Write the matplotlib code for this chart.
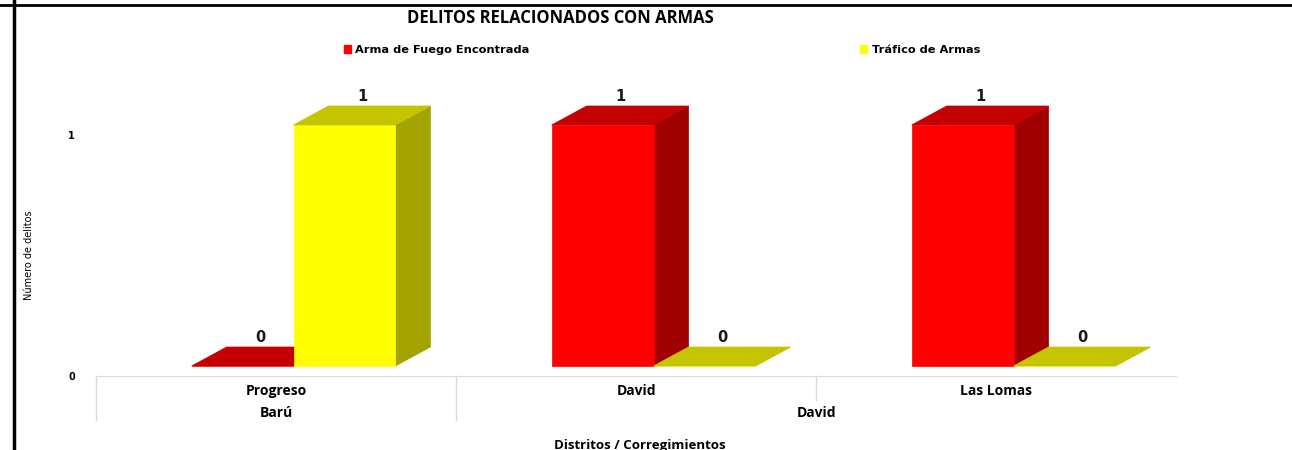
import matplotlib
matplotlib.use('Agg')
import matplotlib.pyplot as plt
from matplotlib.patches import Polygon, Rectangle
from matplotlib.lines import Line2D
import matplotlib.transforms as mtransforms

plt.rcParams['font.family'] = ['Open Sans', 'DejaVu Sans']

# datos
corregimientos = ['Progreso', 'David', 'Las Lomas']
distritos = ['Barú', 'David']
distrito_centros = [0.5, 2.0]
series = ['Arma de Fuego Encontrada', 'Tráfico de Armas']
arma_fuego = [0, 1, 1]
trafico = [1, 0, 0]

# colores (frente, arriba, lado)
col_rojo = ('#FF0000', '#C40000', '#A00000')
col_amar = ('#FFFF00', '#C4C400', '#A4A400')

W, H = 1292, 450
fig = plt.figure(figsize=(W / 100, H / 100), dpi=100)
ax = fig.add_axes([96 / W, (H - 376) / H, 1080 / W, 241 / H])
ax.set_xlim(0, 3)
ax.set_ylim(0, 1)

# profundidad 3D en unidades de datos
dx = 35 / 360
dy = 19 / 241
ox, oy = dx / 2, 10 / 241
ancho = 0.283


def barra3d(x0, v, cols):
    xa = x0 + ox
    xb = xa + ancho
    y0 = oy
    y1 = v + oy
    frente = [(xa, y0), (xb, y0), (xb, y1), (xa, y1)]
    arriba = [(xa, y1), (xb, y1), (xb + dx, y1 + dy), (xa + dx, y1 + dy)]
    lado = [(xb, y0), (xb + dx, y0 + dy), (xb + dx, y1 + dy), (xb, y1)]
    for pts, c in [(lado, cols[2]), (frente, cols[0]), (arriba, cols[1])]:
        ax.add_patch(Polygon(pts, closed=True, facecolor=c, edgecolor=c,
                             linewidth=0.5, clip_on=False))
    ax.text((xa + xb) / 2 + dx / 2, y1 + dy + 0.01, str(v), ha='center',
            va='bottom', fontsize=10.5, fontweight='bold', family='DejaVu Sans',
            color='#1a1a1a')


for i in range(len(corregimientos)):
    barra3d(i + 0.5 - ancho, arma_fuego[i], col_rojo)
    barra3d(i + 0.5, trafico[i], col_amar)

# ejes
for s in ['top', 'right', 'left']:
    ax.spines[s].set_visible(False)
ax.spines['bottom'].set_color('#d9d9d9')
ax.set_yticks([0, 1])
ax.set_yticklabels(['0', '1'], fontsize=7, fontweight='bold', family='DejaVu Sans')
ax.tick_params(axis='y', length=0, pad=15)
ax.set_xticks([0.5, 1.5, 2.5])
ax.set_xticklabels(corregimientos, fontsize=10, fontweight='bold')
ax.tick_params(axis='x', length=0, pad=6)

trans = mtransforms.blended_transform_factory(ax.transData, ax.transAxes)
for xs, yb in [(0, -0.183), (1, -0.183), (2, -0.10)]:
    ax.add_line(Line2D([xs, xs], [0, yb], color='#d9d9d9', linewidth=1,
                       transform=trans, clip_on=False))
for d, xc in zip(distritos, distrito_centros):
    ax.text(xc, -0.155, d, transform=trans, ha='center', va='center',
            fontsize=10, fontweight='bold')

ax.set_ylabel('Número de delitos', fontsize=7, family='Liberation Sans Narrow')
ax.yaxis.set_label_coords(-62 / 1080, 0.5)

fig.text(560 / W, 1 - 18 / H, 'DELITOS RELACIONADOS CON ARMAS', ha='center',
         va='center', fontsize=12, fontweight='bold')
fig.text(640 / W, 1 - 446 / H, 'Distritos / Corregimientos', ha='center',
         va='center', fontsize=9.5, fontweight='bold')

# leyenda
handles = [Rectangle((0, 0), 1, 1, color=col_rojo[0]),
           Rectangle((0, 0), 1, 1, color=col_amar[0])]
fig.legend(handles, series, loc='center', bbox_to_anchor=(662 / W, 1 - 50 / H),
           ncol=2, frameon=False, columnspacing=29, handlelength=0.6,
           handleheight=0.6, handletextpad=0.4,
           prop={'family': 'DejaVu Sans', 'weight': 'bold', 'size': 8.2})

# marco
fig.add_artist(Line2D([0, 1], [1 - 5 / H, 1 - 5 / H], color='black', linewidth=2,
                      transform=fig.transFigure))
fig.add_artist(Line2D([14 / W, 14 / W], [0, 1], color='black', linewidth=2.5,
                      transform=fig.transFigure))

fig.savefig('out.png', dpi=100)
